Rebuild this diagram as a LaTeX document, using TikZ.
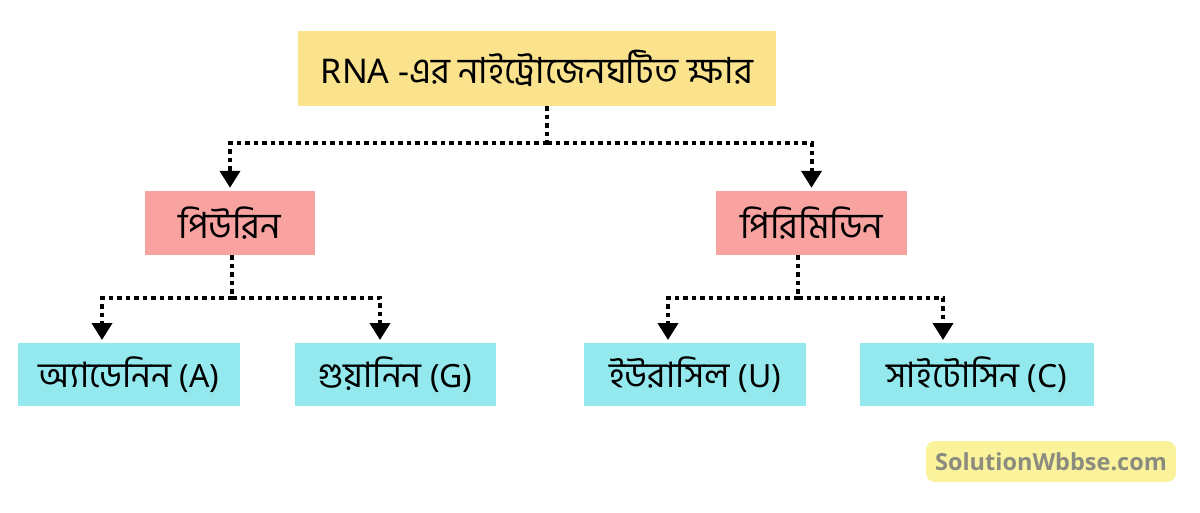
\documentclass[tikz,border=0pt]{standalone}
\usepackage{fontspec}
\usetikzlibrary{arrows.meta}
\setmainfont{Noto Sans}
\newfontfamily\bn[Script=Bengali]{Hind Siliguri}
\newfontfamily\wmfont{Open Sans}
\definecolor{topfill}{HTML}{FBE38E}
\definecolor{pinkfill}{HTML}{F9A3A1}
\definecolor{cyanfill}{HTML}{93E9EE}
\definecolor{wmfill}{HTML}{FAF39C}
\definecolor{wmtext}{HTML}{8C8C7E}
\tikzset{
  box/.style={rectangle, inner sep=0pt, text=black, align=center},
  topbox/.style={box, fill=topfill, minimum width=478pt, minimum height=75pt, font=\fontsize{34}{40}\selectfont},
  midbox/.style={box, fill=pinkfill, minimum height=64pt, font=\fontsize{36}{42}\selectfont},
  leafbox/.style={box, fill=cyanfill, minimum height=63pt, font=\fontsize{32}{38}\selectfont},
  dotline/.style={line width=4pt, dash pattern=on 4.5pt off 4pt, black},
  conn/.style={dotline, -{Triangle[width=20pt,length=17pt]}, shorten >=3pt}
}
\begin{document}
\begin{tikzpicture}[x=1pt,y=-1pt]
\useasboundingbox (0,0) rectangle (1200,512);
\fill[white] (0,0) rectangle (1200,512);
% nodes
\node[topbox] (top) at (537,68.5) {RNA -{\bn\fontsize{36}{42}\selectfont এর নাইট্রোজেনঘটিত ক্ষার}};
\node[midbox, minimum width=170pt] (pur) at (230,223) {\bn পিউরিন};
\node[midbox, minimum width=191pt] (pyr) at (811.5,223) {\bn পিরিমিডিন};
\node[leafbox, minimum width=222pt] (ade) at (129,374.5) {{\bn\fontsize{35}{40}\selectfont অ্যাডেনিন} (A)};
\node[leafbox, minimum width=201pt] (gua) at (395.5,374.5) {{\bn\fontsize{35}{40}\selectfont গুয়ানিন} (G)};
\node[leafbox, minimum width=222pt] (ura) at (695,374.5) {{\bn\fontsize{35}{40}\selectfont ইউরাসিল} (U)};
\node[leafbox, minimum width=234pt] (cyt) at (977,374.5) {{\bn\fontsize{35}{40}\selectfont সাইটোসিন} (C)};
\node[rectangle, rounded corners=9pt, fill=wmfill, minimum width=250pt, minimum height=41pt, font=\wmfont\bfseries\fontsize{23.5}{27}\selectfont, text=wmtext] (wm) at (1051,461.5) {SolutionWbbse.com};
% junctions
\coordinate (j0) at (547,143);
\coordinate (j1) at (232,298);
\coordinate (j2) at (798,298);
\coordinate (ta) at (102,343);
\coordinate (tg) at (380,343);
\coordinate (tu) at (668,343);
\coordinate (tc) at (943,343);
% connectors
\draw[dotline] (top.south -| j0) -- (j0);
\draw[conn] (j0) -| (pur.north);
\draw[conn] (j0) -| (pyr.north);
\draw[dotline] (pur.south -| j1) -- (j1);
\draw[conn] (j1) -| (ta);
\draw[conn] (j1) -| (tg);
\draw[dotline] (pyr.south -| j2) -- (j2);
\draw[conn] (j2) -| (tu);
\draw[conn] (j2) -| (tc);
\end{tikzpicture}
\end{document}
